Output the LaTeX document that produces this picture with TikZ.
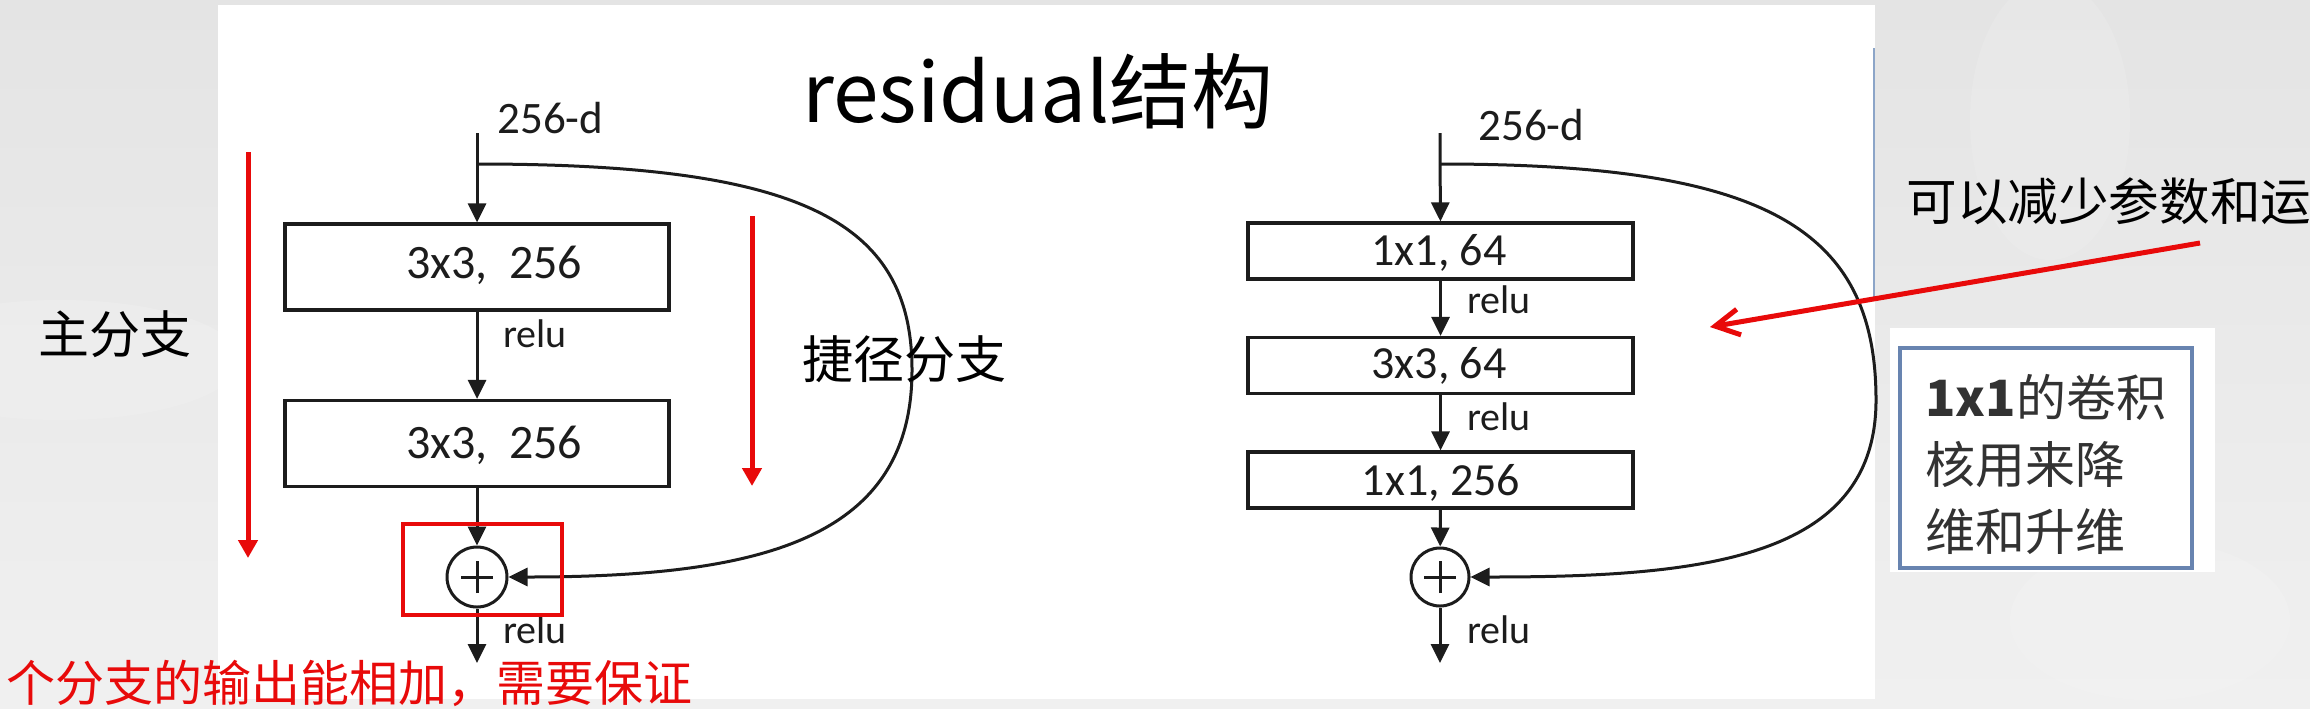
\documentclass[tikz,border=0pt]{standalone}
\usepackage{fontspec}
\setmainfont{Carlito}
\newfontfamily\cjk{Noto Sans CJK SC}
\usetikzlibrary{arrows.meta}
\definecolor{bgtop}{RGB}{228,228,228}
\definecolor{bgbot}{RGB}{240,240,240}
\definecolor{myred}{RGB}{232,10,10}
\definecolor{ink}{RGB}{28,28,28}
\definecolor{noteblue}{RGB}{104,132,176}
\definecolor{panelline}{RGB}{140,165,200}
\definecolor{notetext}{RGB}{50,50,50}
\begin{document}
\begin{tikzpicture}[x=0.5pt,y=-0.5pt,
  line/.style={draw=ink, line width=1.5pt},
  arr/.style={line, -{Triangle[length=9.5pt,width=9pt]}},
  convbox/.style={draw=ink, line width=1.6pt, inner sep=0pt, fill=white},
  lconv/.style={convbox, minimum width=192pt, minimum height=43pt},
  rconv/.style={convbox, minimum width=192.5pt, minimum height=28pt},
  addnode/.style={circle, draw=ink, line width=1.5pt, inner sep=0pt, minimum size=#1},
  boxtxt/.style={inner sep=0pt, text=ink, font=\fontsize{24}{28}\selectfont},
  rboxtxt/.style={inner sep=0pt, text=ink, font=\fontsize{23}{27}\selectfont},
  relulbl/.style={inner sep=0pt, text=ink, anchor=base west, font=\fontsize{20}{24}\selectfont},
  dimlbl/.style={inner sep=0pt, text=ink, anchor=base west, font=\fontsize{22.5}{26}\selectfont},
  cjklbl/.style={inner sep=0pt, anchor=base west, font=\cjk\fontsize{25.5}{30}\selectfont},
  redarr/.style={draw=myred, line width=2.5pt, -{Triangle[length=9pt,width=9.5pt]}},
  notetxt/.style={inner sep=0pt, anchor=base west, text=notetext, font=\cjk\fontsize{25}{30}\selectfont}
]
\useasboundingbox (0,0) rectangle (2310,708);
% background photo and slide panel
\shade[top color=bgtop, bottom color=bgbot] (0,0) rectangle (2310,708);
\fill[white, opacity=0.15] (60,360) ellipse [x radius=90pt, y radius=30pt];
\fill[white, opacity=0.12] (2150,620) ellipse [x radius=70pt, y radius=40pt];
\fill[white, opacity=0.12] (2050,120) ellipse [x radius=40pt, y radius=70pt];
\fill[white] (218,5) rectangle (1875,699);
\draw[panelline, line width=0.8pt] (1874,48) -- (1874,300);

% title
\node[inner sep=0pt, anchor=base west, font=\cjk\fontsize{41}{46}\selectfont] (title) at (802,122) {residual结构};

% ---------- left block ----------
\coordinate (lin) at (477,133);
\coordinate (lbr) at (477,164);
\coordinate (lout) at (477,663);
\node[lconv] (lb1) at (477,267) {};
\node[lconv] (lb2) at (477,443.5) {};
\node[addnode=30pt] (lp) at (477,577) {};
\node[boxtxt, anchor=base] (lb1t) at (494,278) {3x3,\hspace{0.45em}256};
\node[boxtxt, anchor=base] (lb2t) at (494,458) {3x3,\hspace{0.45em}256};
\node[dimlbl] (ld) at (497,133) {256-d};
\node[relulbl] (lr1) at (503,347) {relu};
\node[relulbl] (lr2) at (503,643) {relu};
\draw[arr] (lin) -- (lb1);
\draw[arr] (lb1) -- (lb2);
\draw[arr] (lb2) -- (lp);
\draw[arr] (lp) -- (lout);
\draw[line] ([xshift=-8pt]lp.center) -- ([xshift=8pt]lp.center);
\draw[line] ([yshift=-8pt]lp.center) -- ([yshift=8pt]lp.center);
\draw[arr] (lbr) .. controls (800,164) and (912,220) .. (912,370)
                 .. controls (912,540) and (760,577) .. (lp.east);

% ---------- right block ----------
\coordinate (rin) at (1440,133);
\coordinate (rbr) at (1440,164);
\coordinate (rout) at (1440,663);
\node[rconv] (rb1) at (1440.5,251) {};
\node[rconv] (rb2) at (1440.5,365.5) {};
\node[rconv] (rb3) at (1440.5,480) {};
\node[addnode=29pt] (rp) at (1440,577) {};
\node[rboxtxt, anchor=base] (rb1t) at (1439,265) {1x1, 64};
\node[rboxtxt, anchor=base] (rb2t) at (1439,378) {3x3, 64};
\node[rboxtxt, anchor=base] (rb3t) at (1441,495) {1x1, 256};
\node[dimlbl] (rd) at (1478,140) {256-d};
\node[relulbl] (rr1) at (1467,313) {relu};
\node[relulbl] (rr2) at (1467,430) {relu};
\node[relulbl] (rr3) at (1467,643) {relu};
\draw[arr] (rin) -- (rb1);
\draw[arr] (rb1) -- (rb2);
\draw[arr] (rb2) -- (rb3);
\draw[arr] (rb3) -- (rp);
\draw[arr] (rp) -- (rout);
\draw[line] ([xshift=-8pt]rp.center) -- ([xshift=8pt]rp.center);
\draw[line] ([yshift=-8pt]rp.center) -- ([yshift=8pt]rp.center);
\draw[arr] (rbr) .. controls (1760,164) and (1876,225) .. (1876,400)
                 .. controls (1876,560) and (1700,577) .. (rp.east);

% ---------- annotations ----------
\node[cjklbl] (mainbr) at (38,353) {主分支};
\node[cjklbl] (skipbr) at (802,378) {捷径分支};
\coordinate (ra1s) at (248,152);
\coordinate (ra1e) at (248,558);
\coordinate (ra2s) at (752,216);
\coordinate (ra2e) at (752,486);
\draw[redarr] (ra1s) -- (ra1e);
\draw[redarr] (ra2s) -- (ra2e);
\node[draw=myred, line width=2pt, minimum width=79.5pt, minimum height=45.5pt, inner sep=0pt] (hl) at (482.5,569.5) {};
\node[inner sep=0pt, anchor=base west, text=myred, font=\cjk\fontsize{24.5}{29}\selectfont] (note1) at (6,701) {个分支的输出能相加，需要保证};

% right side notes
\node[cjklbl, font=\cjk\fontsize{25.3}{30}\selectfont] (reduce) at (1906,220) {可以减少参数和运};
\coordinate (la1s) at (2200,243);
\coordinate (la1e) at (1710,327);
\draw[draw=myred, line width=2.5pt, -{Straight Barb[length=12pt,width=13pt]}] (la1s) -- (la1e);
\fill[white] (1890,328) rectangle (2215,572);
\node[draw=noteblue, line width=2pt, minimum width=146pt, minimum height=110pt, inner sep=0pt] (nbox) at (2046,458) {};
\node[notetxt] (nl1) at (1925,416) {{\bfseries 1x1}的卷积};
\node[notetxt] (nl2) at (1925,483) {核用来降};
\node[notetxt] (nl3) at (1925,550) {维和升维};
\end{tikzpicture}
\end{document}
